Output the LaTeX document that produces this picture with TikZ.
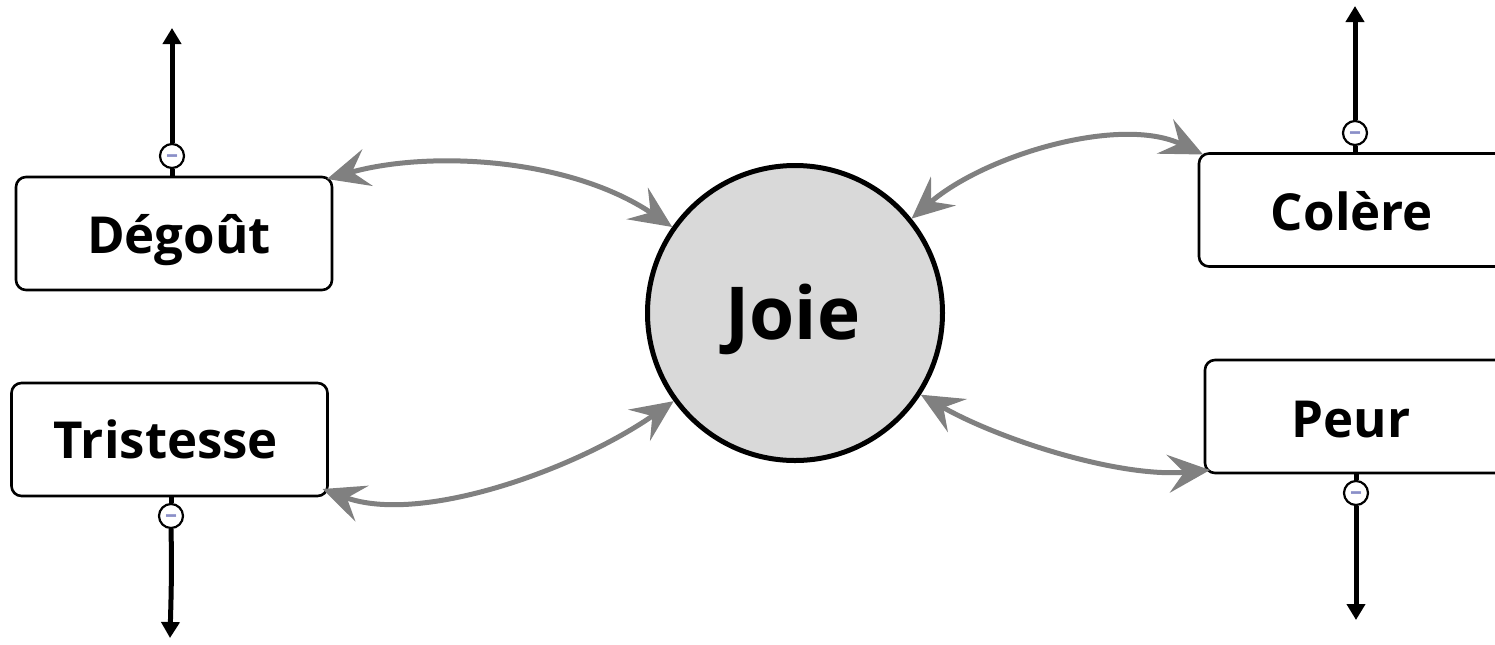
\documentclass[tikz,border=0pt]{standalone}
\usepackage{fontspec}
\setmainfont{Open Sans}
\usetikzlibrary{arrows.meta,calc}
\definecolor{arrgray}{HTML}{808080}
\definecolor{joiefill}{HTML}{D9D9D9}
\definecolor{minuscol}{HTML}{8A8FC8}
\begin{document}
\begin{tikzpicture}[x=0.5pt,y=-0.5pt,
  emobox/.style={draw=black, line width=1.3pt, rounded corners=5pt, fill=white, minimum width=158pt, minimum height=56.5pt, inner sep=0pt, outer sep=0pt},
  emolabel/.style={font=\fontsize{25.5}{30}\selectfont\bfseries, anchor=base, inner sep=0pt},
  joienode/.style={circle, draw=black, line width=2.5pt, fill=joiefill, minimum size=147.5pt, inner sep=0pt},
  minusbadge/.style={circle, draw=black, line width=1.1pt, fill=white, minimum size=12pt, inner sep=0pt, text=minuscol, font=\fontsize{12}{12}\selectfont\bfseries, text height=0pt, text depth=0pt},
  twoway/.style={draw=arrgray, line width=2.5pt, {Stealth[length=21pt,width=19pt,inset=8pt]}-{Stealth[length=21pt,width=19pt,inset=8pt]}},
  stemline/.style={draw=black, line width=2.5pt},
  stemarrow/.style={stemline, -{Triangle[length=8pt,width=9pt]}}
]
\useasboundingbox (0,0) rectangle (1495,644);
\clip (0,0) rectangle (1495,644);

% boxes
\node[emobox] (dg) at (174,233.5) {};
\node[emobox] (tr) at (169.5,439.5) {};
\node[emobox] (co) at (1357,210) {};
\node[emobox] (pe) at (1363,416.5) {};

\node[emolabel] (tdg) at (179,253) {Dégoût};
\node[emolabel] (ttr) at (166,458) {Tristesse};
\node[emolabel] (tco) at (1352,230) {Colère};
\node[emolabel] (tpe) at (1351,437) {Peur};

% central circle
\node[joienode] (joie) at (795,313) {};
\node[font=\fontsize{36.5}{40}\selectfont\bfseries, anchor=base, inner sep=0pt] (tjoie) at (793,339) {Joie};

% minus badges
\node[minusbadge] (mdg) at (172,156) {\raisebox{-0.28em}{–}};
\node[minusbadge] (mco) at (1355,133) {\raisebox{-0.28em}{–}};
\node[minusbadge] (mtr) at (171,516) {\raisebox{-0.28em}{–}};
\node[minusbadge] (mpe) at (1356,493) {\raisebox{-0.28em}{–}};

% stubs between boxes and badges
\draw[stemline] (mdg.south) -- (mdg.south |- dg.north);
\draw[stemline] (mco.south) -- (mco.south |- co.north);
\draw[stemline] (mtr.north) -- (mtr.north |- tr.south);
\draw[stemline] (mpe.north) -- (mpe.north |- pe.south);

% outgoing arrows
\coordinate (edg) at (172,28);
\coordinate (eco) at (1355,6);
\coordinate (etr) at (170,638);
\coordinate (epe) at (1356,620);
\draw[stemarrow] (mdg.north) -- (edg);
\draw[stemarrow] (mco.north) -- (eco);
\draw[stemarrow] (mtr.south) .. controls (172,570) and (171,600) .. (etr);
\draw[stemarrow] (mpe.south) -- (epe);

% two-way gray links
\draw[twoway] ([shift={(-5,2)}]dg.north east) .. controls (430,150) and (570,158) .. (joie.145);
\draw[twoway] ([shift={(-5,-7)}]tr.south east) .. controls (420,525) and (575,470) .. (joie.216);
\draw[twoway] (joie.39) .. controls (985,155) and (1120,115) .. ([shift={(4,1)}]co.north west);
\draw[twoway] (joie.327) .. controls (1000,440) and (1120,478) .. ([shift={(5,-3)}]pe.south west);
\end{tikzpicture}
\end{document}
